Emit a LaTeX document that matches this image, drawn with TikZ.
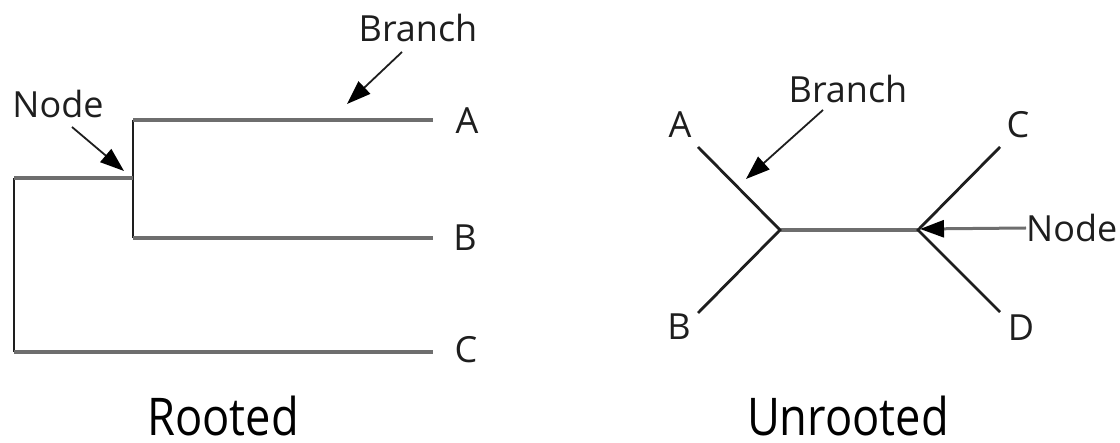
\documentclass[tikz,border=0pt]{standalone}
\usepackage{fontspec}
\usepackage{graphicx}
\setmainfont{Open Sans}
\usetikzlibrary{arrows.meta}
\definecolor{edgegray}{HTML}{6E6E6E}
\definecolor{edgedark}{HTML}{1E1E1E}
\tikzset{
  hedge/.style={draw=edgegray, line width=4.2pt},
  vedge/.style={draw=edgedark, line width=2.8pt},
  dedge/.style={draw=edgedark, line width=2.8pt},
  pointer/.style={draw=edgedark, line width=1.8pt,
    -{Triangle[length=24pt,width=17pt,fill=black,color=black]}},
  lbl/.style={inner sep=0pt, font=\fontsize{36}{40}\selectfont, text=edgedark},
  title/.style={inner sep=0pt, anchor=base, font=\fontsize{52}{56}\selectfont, text=black}
}
\newcommand{\narrow}[1]{\scalebox{0.87}[1]{#1}}
\begin{document}
\begin{tikzpicture}[x=1pt, y=-1pt]
\useasboundingbox (0,0) rectangle (1120,443);

% ---- rooted tree ----
\coordinate (root) at (14,178);
\coordinate (inner) at (133,178);
\coordinate (innerA) at (133,120);
\coordinate (innerB) at (133,238);
\coordinate (rootC) at (14,352);
\coordinate (tipA) at (433,120);
\coordinate (tipB) at (433,238);
\coordinate (tipC) at (433,352);

\draw[vedge] (root) -- (rootC);
\draw[vedge] (innerA) -- (innerB);
\draw[hedge] (root) -- (inner);
\draw[hedge] (innerA) -- (tipA);
\draw[hedge] (innerB) -- (tipB);
\draw[hedge] (rootC) -- (tipC);

\node[lbl] (rA) at (467,121) {A};
\node[lbl] (rB) at (465,238) {B};
\node[lbl] (rC) at (466,350) {C};

\node[lbl] (rnode) at (58,104) {Node};
\coordinate (rnodetail) at (72,127);
\coordinate (rnodetip) at (124,171);
\draw[pointer] (rnodetail) -- (rnodetip);

\node[lbl] (rbranch) at (418,28) {Branch};
\coordinate (rbranchtail) at (402,52);
\coordinate (rbranchtip) at (347,104);
\draw[pointer] (rbranchtail) -- (rbranchtip);

\node[title] (rooted) at (223,436) {\narrow{Rooted}};

% ---- unrooted tree ----
\coordinate (uL) at (780,230);
\coordinate (uR) at (918,230);
\coordinate (uA) at (698,147);
\coordinate (uB) at (698,313);
\coordinate (uC) at (1000,147);
\coordinate (uD) at (1000,312);

\draw[hedge] (uL) -- (uR);
\draw[dedge] (uA) -- (uL) -- (uB);
\draw[dedge] (uC) -- (uR) -- (uD);

\node[lbl] (lA) at (680,125) {A};
\node[lbl] (lB) at (679,327) {B};
\node[lbl] (lC) at (1018,125) {C};
\node[lbl] (lD) at (1021,328) {D};

\node[lbl] (ubranch) at (848,89) {Branch};
\coordinate (ubranchtail) at (823,110);
\coordinate (ubranchtip) at (746,179);
\draw[pointer] (ubranchtail) -- (ubranchtip);

\node[lbl, anchor=west] (unode) at (1026,228) {Node};
\coordinate (unodetip) at (920,229);
\draw[pointer, draw=edgegray, line width=3pt] (unode.west) -- (unodetip);

\node[title] (unrooted) at (848,436) {\narrow{Unrooted}};
\end{tikzpicture}
\end{document}
